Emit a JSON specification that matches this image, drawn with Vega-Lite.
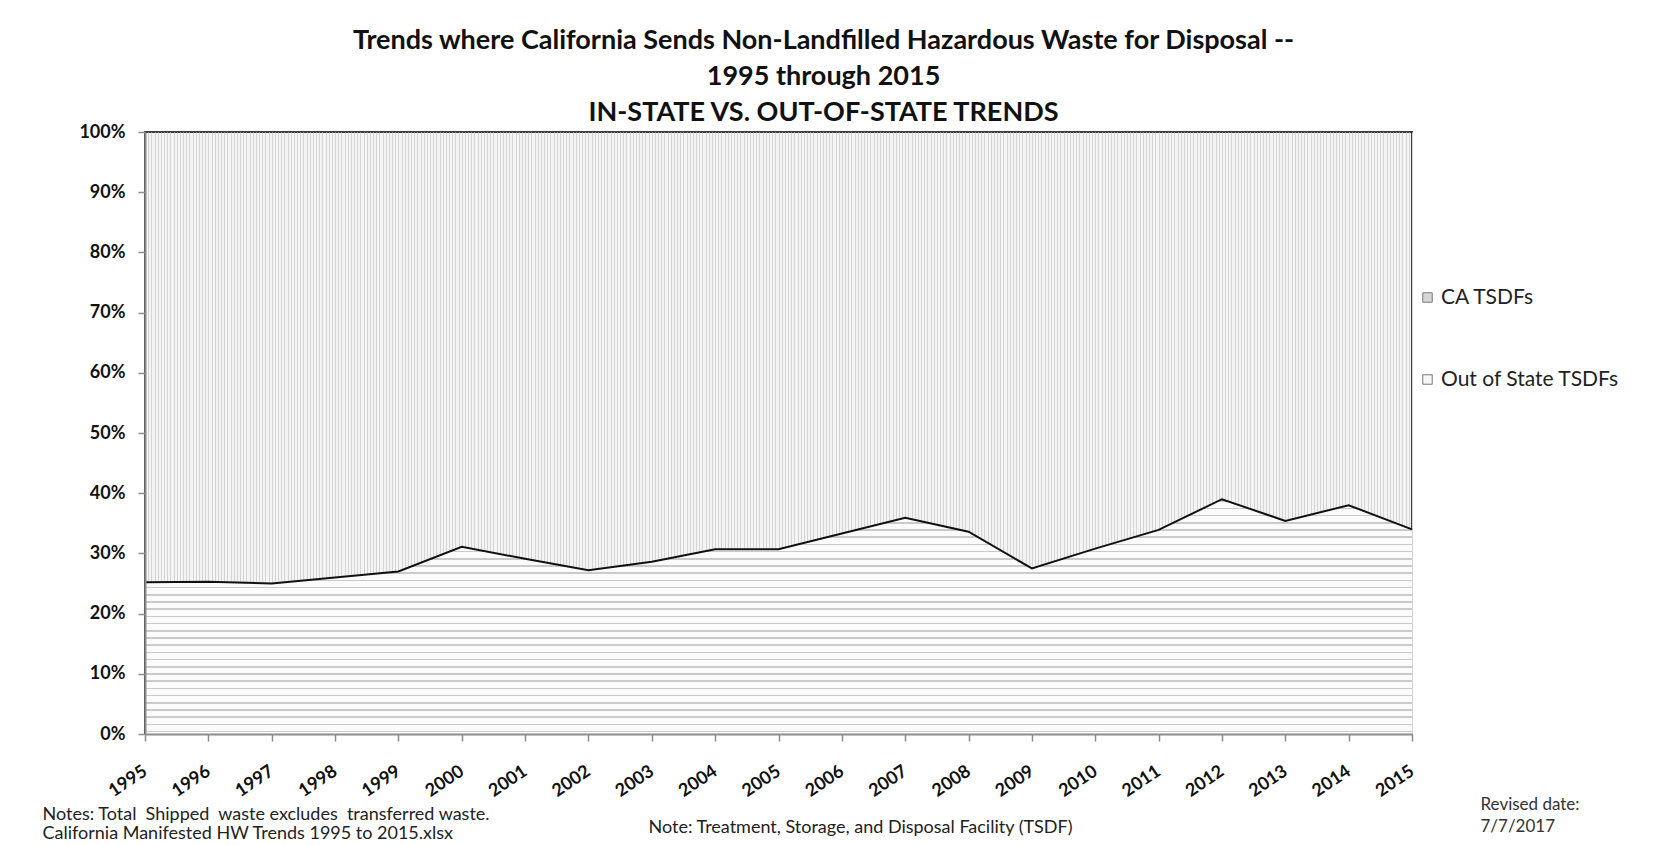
{
  "$schema": "https://vega.github.io/schema/vega-lite/v6.json",
  "autosize": "none",
  "width": 1267,
  "height": 602,
  "padding": {"left": 145, "top": 132, "right": 251, "bottom": 111},
  "background": "white",
  "config": {"font": "Lato"},
  "view": {"fill": "#f4f4f4", "stroke": "#3a3a3a", "strokeWidth": 2},
  "title": {
    "text": [
      "Trends where California Sends Non-Landfilled Hazardous Waste for Disposal --",
      "1995 through 2015",
      "IN-STATE VS. OUT-OF-STATE TRENDS"
    ],
    "font": "Lato",
    "fontSize": 27,
    "fontWeight": "bold",
    "color": "#111111",
    "lineHeight": 36,
    "anchor": "middle",
    "frame": "group",
    "dx": 45,
    "dy": 6,
    "offset": 2
  },
  "data": {
    "values": [
      {"year": 1995, "series": "Out of State TSDFs", "pct": 25.2},
      {"year": 1996, "series": "Out of State TSDFs", "pct": 25.3},
      {"year": 1997, "series": "Out of State TSDFs", "pct": 25.0},
      {"year": 1998, "series": "Out of State TSDFs", "pct": 26.0},
      {"year": 1999, "series": "Out of State TSDFs", "pct": 27.0},
      {"year": 2000, "series": "Out of State TSDFs", "pct": 31.1},
      {"year": 2001, "series": "Out of State TSDFs", "pct": 29.1},
      {"year": 2002, "series": "Out of State TSDFs", "pct": 27.2},
      {"year": 2003, "series": "Out of State TSDFs", "pct": 28.6},
      {"year": 2004, "series": "Out of State TSDFs", "pct": 30.7},
      {"year": 2005, "series": "Out of State TSDFs", "pct": 30.7},
      {"year": 2006, "series": "Out of State TSDFs", "pct": 33.3},
      {"year": 2007, "series": "Out of State TSDFs", "pct": 35.9},
      {"year": 2008, "series": "Out of State TSDFs", "pct": 33.6},
      {"year": 2009, "series": "Out of State TSDFs", "pct": 27.5},
      {"year": 2010, "series": "Out of State TSDFs", "pct": 30.8},
      {"year": 2011, "series": "Out of State TSDFs", "pct": 33.9},
      {"year": 2012, "series": "Out of State TSDFs", "pct": 39.0},
      {"year": 2013, "series": "Out of State TSDFs", "pct": 35.4},
      {"year": 2014, "series": "Out of State TSDFs", "pct": 38.0},
      {"year": 2015, "series": "Out of State TSDFs", "pct": 34.0},
      {"year": 1995, "series": "CA TSDFs", "pct": 74.8},
      {"year": 1996, "series": "CA TSDFs", "pct": 74.7},
      {"year": 1997, "series": "CA TSDFs", "pct": 75.0},
      {"year": 1998, "series": "CA TSDFs", "pct": 74.0},
      {"year": 1999, "series": "CA TSDFs", "pct": 73.0},
      {"year": 2000, "series": "CA TSDFs", "pct": 68.9},
      {"year": 2001, "series": "CA TSDFs", "pct": 70.9},
      {"year": 2002, "series": "CA TSDFs", "pct": 72.8},
      {"year": 2003, "series": "CA TSDFs", "pct": 71.4},
      {"year": 2004, "series": "CA TSDFs", "pct": 69.3},
      {"year": 2005, "series": "CA TSDFs", "pct": 69.3},
      {"year": 2006, "series": "CA TSDFs", "pct": 66.7},
      {"year": 2007, "series": "CA TSDFs", "pct": 64.1},
      {"year": 2008, "series": "CA TSDFs", "pct": 66.4},
      {"year": 2009, "series": "CA TSDFs", "pct": 72.5},
      {"year": 2010, "series": "CA TSDFs", "pct": 69.2},
      {"year": 2011, "series": "CA TSDFs", "pct": 66.1},
      {"year": 2012, "series": "CA TSDFs", "pct": 61.0},
      {"year": 2013, "series": "CA TSDFs", "pct": 64.6},
      {"year": 2014, "series": "CA TSDFs", "pct": 62.0},
      {"year": 2015, "series": "CA TSDFs", "pct": 66.0}
    ]
  },
  "resolve": {"axis": {"x": "independent", "y": "independent"}},
  "layer": [
    {
      "description": "Full 100% stack; carries the legend, the percent axis and the fine vertical hatching grid of the upper band",
      "mark": {"type": "area", "opacity": 0},
      "encoding": {
        "x": {
          "field": "year",
          "type": "quantitative",
          "scale": {"domain": [1995, 2015], "nice": false, "zero": false},
          "axis": {
            "orient": "bottom",
            "grid": true,
            "gridColor": "#d5d5d5",
            "gridWidth": 1,
            "tickCount": 400,
            "labels": false,
            "ticks": false,
            "domain": false,
            "zindex": 0,
            "title": [
              "Notes: Total \u00a0Shipped \u00a0waste excludes \u00a0transferred waste.",
              "\u00a0California Manifested HW Trends 1995 to 2015.xlsx"
            ],
            "titleFont": "Lato",
            "titleFontSize": 18,
            "titleFontWeight": "normal",
            "titleColor": "#222222",
            "titleAlign": "left",
            "titleBaseline": "alphabetic",
            "titleLineHeight": 19,
            "titleX": -103,
            "titleY": 85
          }
        },
        "y": {
          "field": "pct",
          "type": "quantitative",
          "stack": "zero",
          "scale": {"domain": [0, 100], "nice": false},
          "axis": {
            "orient": "left",
            "zindex": 1,
            "grid": false,
            "values": [0, 10, 20, 30, 40, 50, 60, 70, 80, 90, 100],
            "labelExpr": "datum.value + '%'",
            "domainColor": "#8c8c8c",
            "domainWidth": 2,
            "tickColor": "#8c8c8c",
            "tickWidth": 1.5,
            "tickSize": 7,
            "labelFont": "Lato",
            "labelFontSize": 18,
            "labelFontWeight": "bold",
            "labelColor": "#111111",
            "labelPadding": 13,
            "title": ["Revised date:", "7/7/2017"],
            "titleFont": "Lato",
            "titleFontSize": 17,
            "titleFontWeight": "normal",
            "titleColor": "#333333",
            "titleAngle": 0,
            "titleAlign": "left",
            "titleBaseline": "alphabetic",
            "titleLineHeight": 22,
            "titleX": 1335,
            "titleY": 677
          }
        },
        "color": {
          "field": "series",
          "type": "nominal",
          "scale": {"domain": ["CA TSDFs", "Out of State TSDFs"], "range": ["#d6d6d6", "#f6f6f6"]},
          "legend": {
            "title": null,
            "orient": "none",
            "legendX": 1272,
            "legendY": 155,
            "symbolType": "square",
            "symbolSize": 90,
            "symbolOpacity": 1,
            "symbolStrokeColor": "#7a7a7a",
            "symbolStrokeWidth": 1,
            "labelFont": "Lato",
            "labelFontSize": 21,
            "labelColor": "#222222",
            "labelOffset": 3,
            "labelLimit": 0,
            "rowPadding": 60,
            "padding": 0
          }
        }
      }
    },
    {
      "description": "Lower band: share sent to out-of-state facilities, with horizontal hatching",
      "transform": [{"filter": "datum.series === 'Out of State TSDFs'"}],
      "mark": {
        "type": "area",
        "fill": {
          "gradient": "linear",
          "x1": 0, "y1": 0, "x2": 0, "y2": 1,
          "stops": [
            {"offset": 0, "color": "#fbfbfb"},
            {"offset": 0.00543, "color": "#fbfbfb"}, {"offset": 0.00543, "color": "#cacaca"}, {"offset": 0.01224, "color": "#cacaca"}, {"offset": 0.01224, "color": "#fbfbfb"},
            {"offset": 0.03607, "color": "#fbfbfb"}, {"offset": 0.03607, "color": "#cacaca"}, {"offset": 0.04288, "color": "#cacaca"}, {"offset": 0.04288, "color": "#fbfbfb"},
            {"offset": 0.06671, "color": "#fbfbfb"}, {"offset": 0.06671, "color": "#cacaca"}, {"offset": 0.07352, "color": "#cacaca"}, {"offset": 0.07352, "color": "#fbfbfb"},
            {"offset": 0.09735, "color": "#fbfbfb"}, {"offset": 0.09735, "color": "#cacaca"}, {"offset": 0.10416, "color": "#cacaca"}, {"offset": 0.10416, "color": "#fbfbfb"},
            {"offset": 0.12799, "color": "#fbfbfb"}, {"offset": 0.12799, "color": "#cacaca"}, {"offset": 0.1348, "color": "#cacaca"}, {"offset": 0.1348, "color": "#fbfbfb"},
            {"offset": 0.15864, "color": "#fbfbfb"}, {"offset": 0.15864, "color": "#cacaca"}, {"offset": 0.16545, "color": "#cacaca"}, {"offset": 0.16545, "color": "#fbfbfb"},
            {"offset": 0.18928, "color": "#fbfbfb"}, {"offset": 0.18928, "color": "#cacaca"}, {"offset": 0.19609, "color": "#cacaca"}, {"offset": 0.19609, "color": "#fbfbfb"},
            {"offset": 0.21992, "color": "#fbfbfb"}, {"offset": 0.21992, "color": "#cacaca"}, {"offset": 0.22673, "color": "#cacaca"}, {"offset": 0.22673, "color": "#fbfbfb"},
            {"offset": 0.25056, "color": "#fbfbfb"}, {"offset": 0.25056, "color": "#cacaca"}, {"offset": 0.25737, "color": "#cacaca"}, {"offset": 0.25737, "color": "#fbfbfb"},
            {"offset": 0.2812, "color": "#fbfbfb"}, {"offset": 0.2812, "color": "#cacaca"}, {"offset": 0.28801, "color": "#cacaca"}, {"offset": 0.28801, "color": "#fbfbfb"},
            {"offset": 0.31185, "color": "#fbfbfb"}, {"offset": 0.31185, "color": "#cacaca"}, {"offset": 0.31866, "color": "#cacaca"}, {"offset": 0.31866, "color": "#fbfbfb"},
            {"offset": 0.34249, "color": "#fbfbfb"}, {"offset": 0.34249, "color": "#cacaca"}, {"offset": 0.3493, "color": "#cacaca"}, {"offset": 0.3493, "color": "#fbfbfb"},
            {"offset": 0.37313, "color": "#fbfbfb"}, {"offset": 0.37313, "color": "#cacaca"}, {"offset": 0.37994, "color": "#cacaca"}, {"offset": 0.37994, "color": "#fbfbfb"},
            {"offset": 0.40377, "color": "#fbfbfb"}, {"offset": 0.40377, "color": "#cacaca"}, {"offset": 0.41058, "color": "#cacaca"}, {"offset": 0.41058, "color": "#fbfbfb"},
            {"offset": 0.43441, "color": "#fbfbfb"}, {"offset": 0.43441, "color": "#cacaca"}, {"offset": 0.44122, "color": "#cacaca"}, {"offset": 0.44122, "color": "#fbfbfb"},
            {"offset": 0.46506, "color": "#fbfbfb"}, {"offset": 0.46506, "color": "#cacaca"}, {"offset": 0.47187, "color": "#cacaca"}, {"offset": 0.47187, "color": "#fbfbfb"},
            {"offset": 0.4957, "color": "#fbfbfb"}, {"offset": 0.4957, "color": "#cacaca"}, {"offset": 0.50251, "color": "#cacaca"}, {"offset": 0.50251, "color": "#fbfbfb"},
            {"offset": 0.52634, "color": "#fbfbfb"}, {"offset": 0.52634, "color": "#cacaca"}, {"offset": 0.53315, "color": "#cacaca"}, {"offset": 0.53315, "color": "#fbfbfb"},
            {"offset": 0.55698, "color": "#fbfbfb"}, {"offset": 0.55698, "color": "#cacaca"}, {"offset": 0.56379, "color": "#cacaca"}, {"offset": 0.56379, "color": "#fbfbfb"},
            {"offset": 0.58762, "color": "#fbfbfb"}, {"offset": 0.58762, "color": "#cacaca"}, {"offset": 0.59443, "color": "#cacaca"}, {"offset": 0.59443, "color": "#fbfbfb"},
            {"offset": 0.61827, "color": "#fbfbfb"}, {"offset": 0.61827, "color": "#cacaca"}, {"offset": 0.62508, "color": "#cacaca"}, {"offset": 0.62508, "color": "#fbfbfb"},
            {"offset": 0.64891, "color": "#fbfbfb"}, {"offset": 0.64891, "color": "#cacaca"}, {"offset": 0.65572, "color": "#cacaca"}, {"offset": 0.65572, "color": "#fbfbfb"},
            {"offset": 0.67955, "color": "#fbfbfb"}, {"offset": 0.67955, "color": "#cacaca"}, {"offset": 0.68636, "color": "#cacaca"}, {"offset": 0.68636, "color": "#fbfbfb"},
            {"offset": 0.71019, "color": "#fbfbfb"}, {"offset": 0.71019, "color": "#cacaca"}, {"offset": 0.717, "color": "#cacaca"}, {"offset": 0.717, "color": "#fbfbfb"},
            {"offset": 0.74083, "color": "#fbfbfb"}, {"offset": 0.74083, "color": "#cacaca"}, {"offset": 0.74764, "color": "#cacaca"}, {"offset": 0.74764, "color": "#fbfbfb"},
            {"offset": 0.77148, "color": "#fbfbfb"}, {"offset": 0.77148, "color": "#cacaca"}, {"offset": 0.77829, "color": "#cacaca"}, {"offset": 0.77829, "color": "#fbfbfb"},
            {"offset": 0.80212, "color": "#fbfbfb"}, {"offset": 0.80212, "color": "#cacaca"}, {"offset": 0.80893, "color": "#cacaca"}, {"offset": 0.80893, "color": "#fbfbfb"},
            {"offset": 0.83276, "color": "#fbfbfb"}, {"offset": 0.83276, "color": "#cacaca"}, {"offset": 0.83957, "color": "#cacaca"}, {"offset": 0.83957, "color": "#fbfbfb"},
            {"offset": 0.8634, "color": "#fbfbfb"}, {"offset": 0.8634, "color": "#cacaca"}, {"offset": 0.87021, "color": "#cacaca"}, {"offset": 0.87021, "color": "#fbfbfb"},
            {"offset": 0.89404, "color": "#fbfbfb"}, {"offset": 0.89404, "color": "#cacaca"}, {"offset": 0.90085, "color": "#cacaca"}, {"offset": 0.90085, "color": "#fbfbfb"},
            {"offset": 0.92469, "color": "#fbfbfb"}, {"offset": 0.92469, "color": "#cacaca"}, {"offset": 0.9315, "color": "#cacaca"}, {"offset": 0.9315, "color": "#fbfbfb"},
            {"offset": 0.95533, "color": "#fbfbfb"}, {"offset": 0.95533, "color": "#cacaca"}, {"offset": 0.96214, "color": "#cacaca"}, {"offset": 0.96214, "color": "#fbfbfb"},
            {"offset": 0.98597, "color": "#fbfbfb"}, {"offset": 0.98597, "color": "#cacaca"}, {"offset": 0.99278, "color": "#cacaca"}, {"offset": 0.99278, "color": "#fbfbfb"},
            {"offset": 1, "color": "#fbfbfb"}
          ]
        }
      },
      "encoding": {
        "x": {"field": "year", "type": "quantitative", "axis": null},
        "y": {"field": "pct", "type": "quantitative", "stack": null, "axis": null}
      }
    },
    {
      "description": "Boundary line between the two shares, plus the labelled year axis",
      "transform": [{"filter": "datum.series === 'Out of State TSDFs'"}],
      "mark": {"type": "line", "color": "#111111", "strokeWidth": 2},
      "encoding": {
        "x": {
          "field": "year",
          "type": "quantitative",
          "axis": {
            "orient": "bottom",
            "zindex": 1,
            "grid": false,
            "tickCount": 20,
            "format": "d",
            "domainColor": "#8c8c8c",
            "domainWidth": 2,
            "tickColor": "#8c8c8c",
            "tickWidth": 1.5,
            "tickSize": 7,
            "labelFont": "Lato",
            "labelFontSize": 18,
            "labelFontWeight": "bold",
            "labelColor": "#111111",
            "labelAngle": -34,
            "labelAlign": "right",
            "labelBaseline": "top",
            "labelPadding": 21,
            "labelOffset": -5,
            "labelOverlap": false,
            "title": "Note: Treatment, Storage, and Disposal Facility (TSDF)",
            "titleFont": "Lato",
            "titleFontSize": 18,
            "titleFontWeight": "normal",
            "titleColor": "#222222",
            "titleAlign": "left",
            "titleBaseline": "alphabetic",
            "titleX": 503,
            "titleY": 98
          }
        },
        "y": {"field": "pct", "type": "quantitative", "stack": null, "axis": null}
      }
    }
  ]
}
